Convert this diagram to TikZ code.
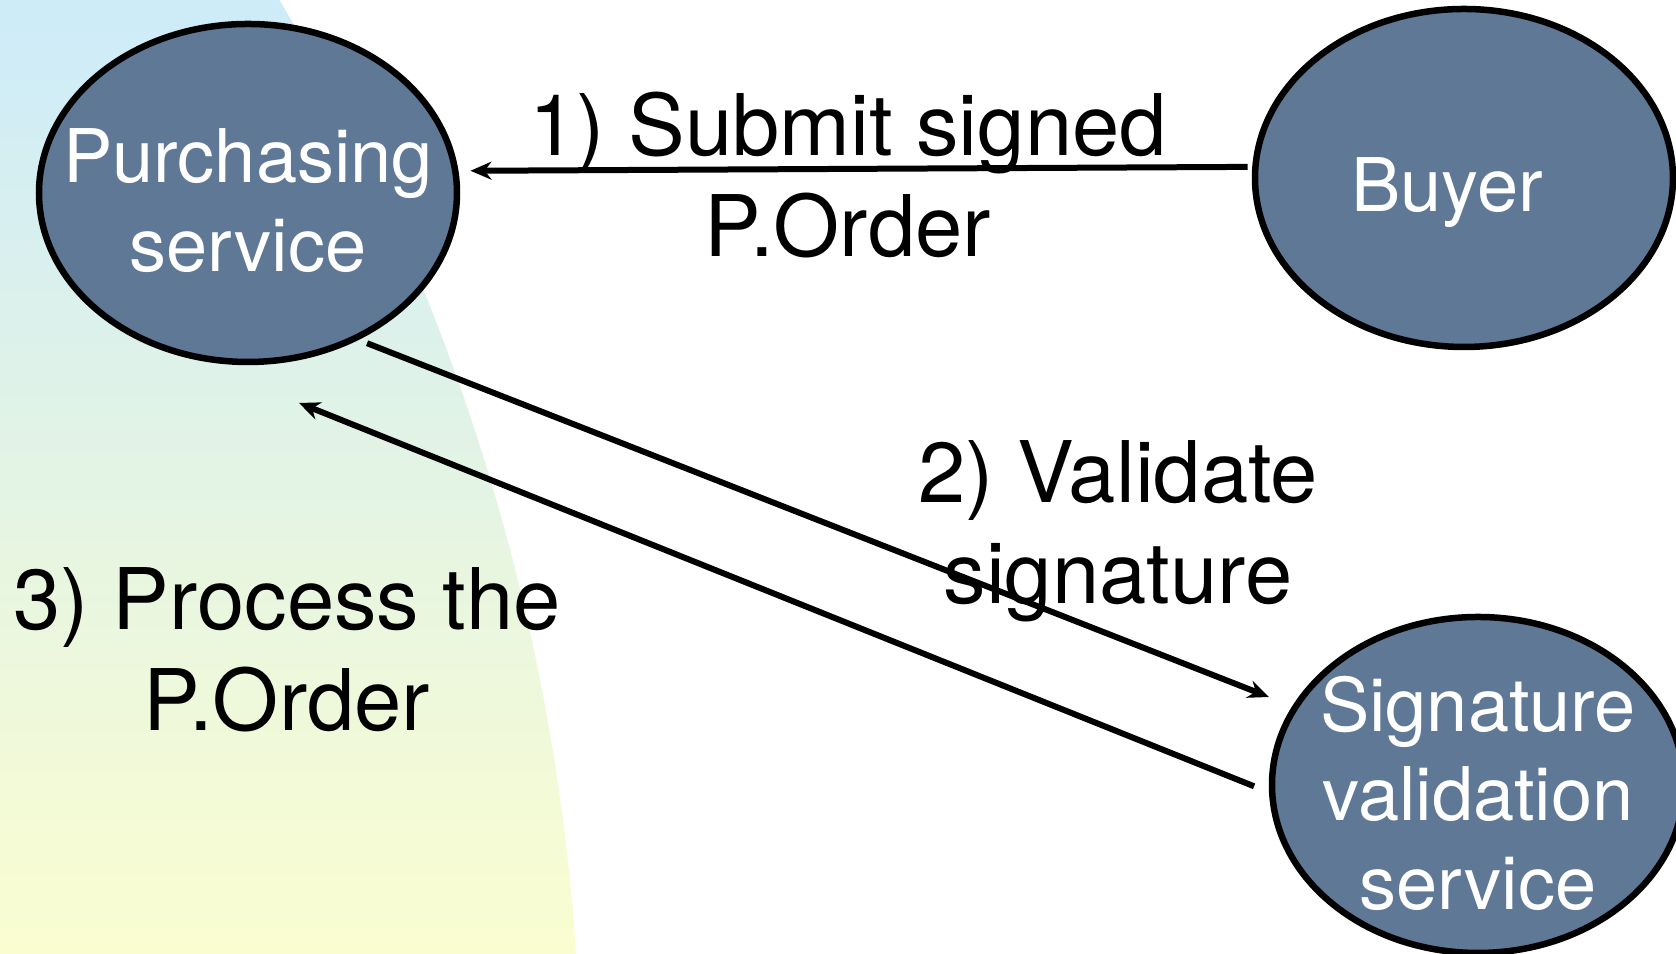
\documentclass[tikz,border=0pt]{standalone}
\usepackage{fontspec}
\setmainfont{TeX Gyre Heros}
\usetikzlibrary{shapes.geometric,arrows.meta}
\definecolor{slate}{HTML}{5E7896}
\definecolor{skytop}{HTML}{CDEBF9}
\definecolor{mintmid}{HTML}{E4F4EA}
\definecolor{creambot}{HTML}{FAFDD0}
\tikzset{
  service/.style={ellipse, draw=black, line width=0.065cm, fill=slate, inner sep=0pt},
  servtext/.style={text=white, align=center, font=\fontsize{0.74cm}{0.89cm}\selectfont},
  msg/.style={align=center, font=\fontsize{0.85cm}{1.01cm}\selectfont},
  flow/.style={line width=0.06cm, -{Stealth[length=0.21cm,width=0.18cm]}}
}
\begin{document}
\begin{tikzpicture}
\useasboundingbox (0,0) rectangle (16.76,9.54);
\begin{scope}
\clip (-15.73,-1.46) circle (21.54);
\shade [top color=skytop, middle color=mintmid, bottom color=creambot] (0,0) rectangle (6,9.54);
\end{scope}
\node [service, minimum width=4.18cm, minimum height=3.38cm] (purch) at (2.48,7.61) {};
\node [service, minimum width=4.18cm, minimum height=3.38cm] (buyer) at (14.64,7.76) {};
\node [service, minimum width=4.12cm, minimum height=3.36cm] (sigval) at (14.78,1.69) {};
\node [servtext] (purchtext) at ([yshift=-0.08cm]purch) {Purchasing\\service};
\node [servtext] (buyertext) at ([xshift=-0.17cm,yshift=-0.15cm]buyer) {Buyer};
\node [servtext] (sigvaltext) at ([yshift=-0.08cm]sigval) {Signature\\validation\\service};
\node [msg] (submit) at (8.48,7.79) {1) Submit signed\\P.Order};
\node [msg] (validate) at (11.18,4.23) {2) Validate\\signature};
\node [msg] (process) at (2.87,3.04) {3) Process the\\P.Order};
\coordinate (purchback) at (2.99,5.51);
\draw [flow, shorten <=0.045cm, shorten >=0.12cm] (buyer.177) -- (purch.6);
\draw [flow, shorten <=0.09cm, shorten >=0.25cm] (purch.-53) -- (sigval.157);
\draw [flow, shorten <=0.16cm] (sigval.182.5) -- (purchback);
\end{tikzpicture}
\end{document}
